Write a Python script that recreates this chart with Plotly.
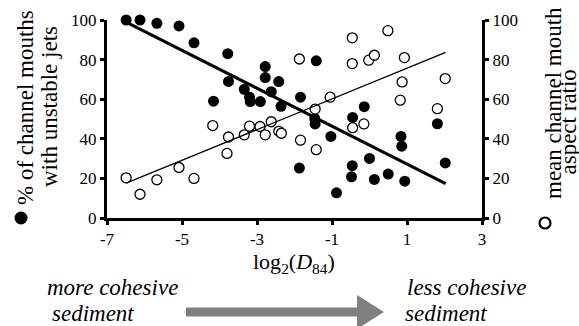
import plotly.graph_objects as go

# log2(D84) of each delta and the share of its channel mouths with unstable jets (%)
jet_x = [-6.49, -6.12, -5.67, -5.08, -4.68, -3.78, -3.76, -4.16, -2.78, -2.78,
         -2.42, -3.34, -2.62, -3.20, -3.18, -2.91, -2.36, -1.42, -1.84, -1.46,
         -1.45, -1.03, -0.14, -0.45, 0.84, 0.86, 1.81, 2.02, -1.87, 0.00,
         -0.46, -0.48, 0.13, 0.50, 0.94, -0.88]
jet_pct = [100, 100, 98.3, 97, 88.5, 83, 69, 59, 76.5, 70.9,
           68.9, 65, 63.8, 61, 58.8, 58.8, 56.4, 79.4, 61, 50.2,
           47.5, 41.2, 56.2, 50.8, 41.2, 36.3, 47.6, 27.8, 25.2, 30.1,
           26.4, 20.8, 19.5, 22.2, 18.6, 12.7]

# log2(D84) of each delta and its mean channel mouth aspect ratio
ar_x = [-6.49, -6.12, -5.67, -5.08, -4.68, -4.18, -3.76, -3.80, -3.34, -3.20,
        -2.92, -2.62, -2.78, -2.42, -2.35, -1.87, -1.05, -1.45, -1.84, -1.42,
        -0.46, 0.49, -0.46, -0.02, 0.13, 0.93, 0.87, 2.02, 0.82, 1.81,
        -0.45, -0.15]
ar_val = [20.3, 12, 19.3, 25.5, 20, 46.7, 40.9, 32.6, 42, 46.4,
          46.2, 48.6, 42, 43.8, 42.8, 80.3, 61, 55, 39.3, 34.5,
          91, 94.6, 78, 79.7, 82.2, 81, 68.7, 70.4, 59.5, 55.2,
          45.6, 47.5]

# least-squares trend lines (end points over the sampled log2(D84) span)
trend_x = [-6.49, 2.03]
jet_trend = [98.9, 17.4]
ar_trend = [17.6, 83.6]

x_ticks = [-7, -5, -3, -1, 1, 3]
y_ticks = [0, 20, 40, 60, 80, 100]

FONT = "Liberation Serif"
W, H = 579, 326
L, R, T, B = 107, 482, 20, 218   # plot area edges in pixels


def pxx(p):
    return (p - L) / (R - L)


def pxy(p):
    return (B - p) / (B - T)


fig = go.Figure()

fig.add_trace(go.Scatter(
    x=jet_x, y=jet_pct, mode="markers", cliponaxis=False,
    marker=dict(symbol="circle", size=11, color="black", line=dict(width=0)),
    showlegend=False))

fig.add_trace(go.Scatter(
    x=ar_x, y=ar_val, mode="markers", yaxis="y2", cliponaxis=False,
    marker=dict(symbol="circle", size=10, color="white",
                line=dict(width=1.3, color="black")),
    showlegend=False))

fig.add_trace(go.Scatter(x=trend_x, y=jet_trend, mode="lines", cliponaxis=False,
                         line=dict(color="black", width=3), showlegend=False))
fig.add_trace(go.Scatter(x=trend_x, y=ar_trend, mode="lines", yaxis="y2",
                         cliponaxis=False, line=dict(color="black", width=1.3),
                         showlegend=False))

axis_common = dict(showgrid=False, zeroline=False, showline=True, linecolor="black",
                   linewidth=3, ticks="outside", ticklen=4, tickwidth=2.5,
                   tickcolor="black", tickfont=dict(family=FONT, size=17, color="black"))

fig.update_layout(
    width=W, height=H,
    margin=dict(l=L, r=W - R, t=T, b=H - B, pad=0),
    paper_bgcolor="white", plot_bgcolor="white",
    font=dict(family=FONT, color="black"),
    xaxis=dict(range=[-7, 3], tickvals=x_ticks, ticktext=[str(v) for v in x_ticks],
               **axis_common),
    yaxis=dict(range=[0, 100], tickvals=y_ticks, **axis_common),
    yaxis2=dict(range=[0, 100], tickvals=y_ticks, overlaying="y", side="right",
                **axis_common),
)

ann = []


def label(s, x, y, size=23, angle=0, italic=False):
    ann.append(dict(text=f"<i>{s}</i>" if italic else s, x=pxx(x), y=pxy(y),
                    xref="paper", yref="paper", showarrow=False, textangle=angle,
                    xanchor="center", yanchor="middle",
                    font=dict(family=FONT, size=size, color="black")))


# axis titles
label("% of channel mouths", 25, 108, angle=-90)
label("with unstable jets", 49, 107, angle=-90)
label("mean channel mouth", 553, 103, angle=-90)
label("aspect ratio", 567.5, 122, angle=-90)
label("log<sub>2</sub>(<i>D</i><sub>84</sub>)", 294, 263, size=22)

# sediment cohesion notes
label("more cohesive", 112, 287, italic=True)
label("sediment", 93, 313, italic=True)
label("less cohesive", 466, 287, italic=True)
label("sediment", 446, 313, italic=True)

shapes = []


def key_circle(cx, cy, r, fill, lw):
    shapes.append(dict(type="circle", xref="paper", yref="paper",
                       x0=pxx(cx - r), x1=pxx(cx + r), y0=pxy(cy + r), y1=pxy(cy - r),
                       fillcolor=fill, line=dict(width=lw, color="black")))


# symbol keys next to the axis titles
key_circle(21, 218, 6.5, "black", 0)
key_circle(545, 223, 5.5, "white", 2.2)

# grey arrow from cohesive to non-cohesive
ax0, ax1, atip, ay, half_shaft, half_head = 186, 357, 384, 312, 4.5, 17
pts = [(ax0, ay - half_shaft), (ax1, ay - half_shaft), (ax1, ay - half_head),
       (atip, ay), (ax1, ay + half_head), (ax1, ay + half_shaft), (ax0, ay + half_shaft)]
path = "M " + " L ".join(f"{pxx(a):.5f},{pxy(b):.5f}" for a, b in pts) + " Z"
shapes.append(dict(type="path", xref="paper", yref="paper", path=path,
                   fillcolor="#808080", line=dict(width=0)))

fig.update_layout(annotations=ann, shapes=shapes)

fig.write_html("out.html")
